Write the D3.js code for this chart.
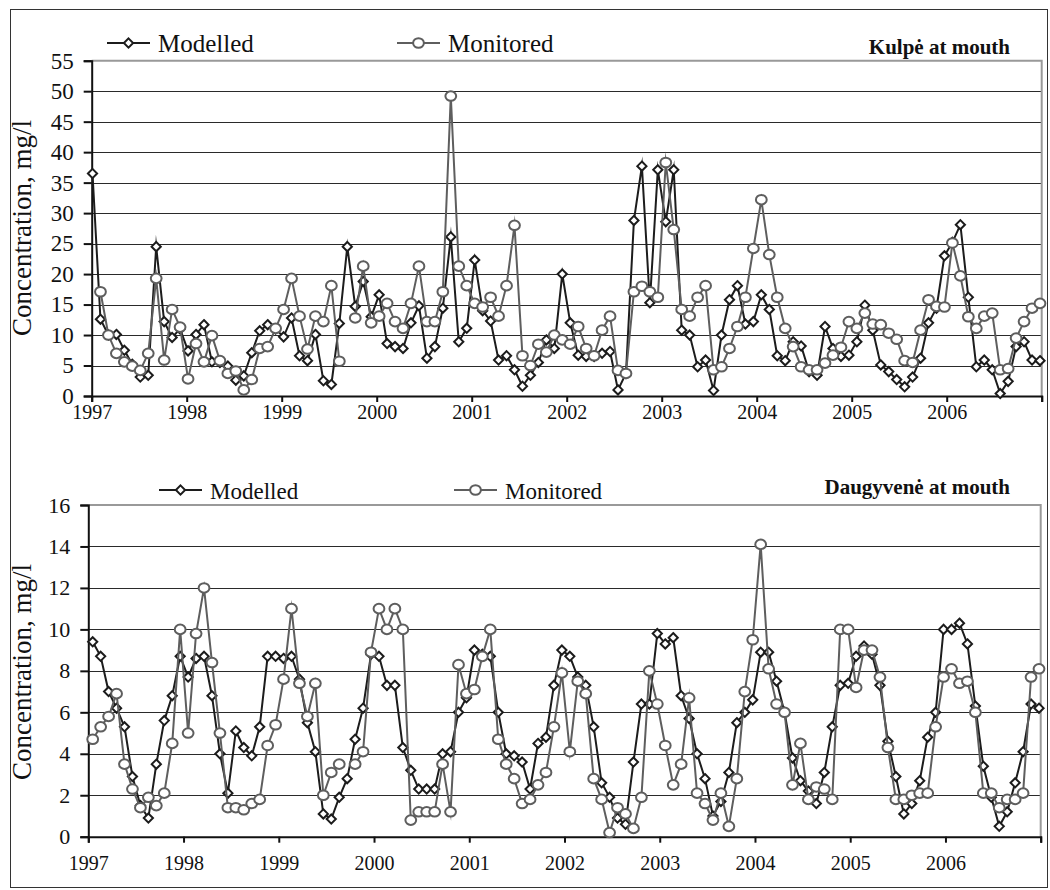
<!DOCTYPE html>
<html>
<head>
<meta charset="utf-8">
<script src="https://cdn.jsdelivr.net/npm/d3@7"></script>
<style>
  body { margin: 0; background: #fff; }
  svg { display: block; }
  text { font-family: "Liberation Serif", "Times New Roman", serif; fill: #111; }
</style>
</head>
<body>
<script>
// monthly values, Jan 1997 .. Dec 2006
const years = [1997, 1998, 1999, 2000, 2001, 2002, 2003, 2004, 2005, 2006];

const kulpeModelled = [
  36.5, 12.6, 10, 10.1, 7.5, 5.2, 3.1, 3.4, 24.5, 12.2, 9.6, 11, 7.4, 10.1, 11.7, 5.6, 5.5, 4.9, 2.6, 3.3,
  7.1, 10.7, 11.7, 11, 9.7, 12.8, 6.6, 5.8, 10.1, 2.5, 1.9, 11.9, 24.5, 14.7, 18.8, 13, 16.6, 8.6, 8.1, 7.8,
  12.0, 14.8, 6.2, 8.1, 14.4, 26.1, 8.9, 11.1, 22.3, 14, 12.3, 5.9, 6.6, 4.3, 1.6, 3.4, 5.5, 9.2, 7.8, 20.0,
  12.0, 6.7, 6.5, 6.5, 7.0, 7.3, 1.0, 3.7, 28.8, 37.7, 15.3, 37.1, 28.6, 37.1, 10.8, 10.0, 4.8, 5.9, 0.9, 10.0,
  15.8, 18.1, 11.8, 12.2, 16.6, 14.2, 6.6, 5.8, 8.9, 8.2, 4.0, 3.4, 11.4, 7.8, 6.5, 6.7, 8.9, 14.9, 10.8, 5.1,
  4.0, 2.7, 1.5, 3.1, 6.2, 12.0, 14.4, 23.0, 25.2, 28.1, 16.2, 4.8, 5.9, 4.3, 0.4, 2.4, 8.1, 8.9, 5.9, 5.8
];
const kulpeMonitored = [
  null, 17.1, 10.0, 7.0, 5.6, 4.9, 4.2, 7.0, 19.3, 5.9, 14.2, 11.3, 2.8, 8.6, 5.6, 9.9, 5.8, 3.7, 4.1, 1.0,
  2.7, 7.8, 8.1, 11.1, 14.2, 19.3, 13.1, 7.7, 13.1, 12.2, 18.1, 5.7, null, 12.8, 21.3, 12.0, 13.1, 15.2, 12.2, 11.1,
  15.2, 21.3, 12.2, 12.2, 17.1, 49.2, 21.3, 18.1, 15.2, 14.6, 16.2, 13.1, 18.1, 28.0, 6.6, 5.0, 8.5, 7.2, 10.0, 9.2,
  8.5, 11.4, 7.8, 6.6, 10.8, 13.1, 4.2, 3.7, 17.1, 18.0, 17.1, 16.2, 38.3, 27.3, 14.2, 13.1, 16.2, 18.1, 4.3, 4.8,
  7.8, 11.4, 16.2, 24.2, 32.2, 23.2, 16.2, 11.1, 8.1, 4.8, 4.3, 4.3, 5.4, 6.7, 8.0, 12.2, 11.1, 13.6, 11.8, 11.7,
  10.3, 9.3, 5.8, 5.5, 10.8, 15.8, 14.7, 14.6, 25.1, 19.7, 13.0, 11.1, 13.1, 13.6, 4.3, 4.5, 9.5, 12.2, 14.4, 15.2
];
const kulpeTicks = [0, 5, 10, 15, 20, 25, 30, 35, 40, 45, 50, 55];

const daugModelled = [
  9.4, 8.7, 7.0, 6.2, 5.3, 2.9, 1.5, 0.9, 3.5, 5.6, 6.8, 8.7, 7.7, 8.6, 8.7, 6.8, 4.0, 2.1, 5.1, 4.3,
  3.9, 5.3, 8.7, 8.7, 8.6, 8.7, 7.6, 5.5, 4.1, 1.1, 0.85, 1.9, 2.8, 4.7, 6.2, 8.8, 8.7, 7.3, 7.3, 4.3,
  3.2, 2.3, 2.3, 2.3, 4.0, 4.1, 6.0, 6.7, 9.0, 8.8, 8.7, 6.0, 4.0, 3.9, 3.6, 2.3, 4.5, 4.8, 7.3, 9.0,
  8.7, 7.7, 7.3, 5.3, 2.6, 1.9, 0.9, 0.6, 3.6, 6.4, 6.4, 9.8, 9.3, 9.6, 6.8, 5.7, 4.0, 2.8, 1.0, 1.7,
  3.1, 5.5, 6.0, 6.6, 8.9, 8.9, 7.5, 6.0, 3.8, 2.7, 2.2, 1.6, 3.1, 5.3, 7.3, 7.4, 8.7, 9.2, 8.8, 7.3,
  4.6, 2.9, 1.1, 1.6, 2.7, 4.8, 6.0, 10.0, 10.0, 10.3, 9.3, 6.3, 3.4, 1.9, 0.5, 1.2, 2.6, 4.1, 6.4, 6.2
];
const daugMonitored = [
  4.7, 5.3, 5.8, 6.9, 3.5, 2.3, 1.4, 1.9, 1.5, 2.1, 4.5, 10.0, 5.0, 9.8, 12.0, 8.4, 5.0, 1.4, 1.4, 1.3,
  1.6, 1.8, 4.4, 5.4, 7.6, 11.0, 7.4, 5.8, 7.4, 2.0, 3.1, 3.5, null, 3.5, 4.1, 8.9, 11.0, 10.0, 11.0, 10.0,
  0.8, 1.2, 1.2, 1.2, 3.5, 1.2, 8.3, 6.9, 7.1, 8.7, 10.0, 4.7, 3.5, 2.8, 1.6, 1.8, 2.5, 3.1, 5.3, 7.9,
  4.1, 7.5, 6.9, 2.8, 1.8, 0.2, 1.4, 1.1, 0.4, 1.9, 8.0, 6.4, 4.4, 2.5, 3.5, 6.7, 2.1, 1.6, 0.8, 2.1,
  0.5, 2.8, 7.0, 9.5, 14.1, 8.1, 6.4, 6.0, 2.5, 4.5, 1.8, 2.4, 2.3, 1.8, 10.0, 10.0, 7.2, 9.0, 9.0, 7.7,
  4.3, 1.8, 1.8, 2.0, 2.1, 2.1, 5.3, 7.7, 8.1, 7.4, 7.5, 6.0, 2.1, 2.1, 1.4, 1.8, 1.8, 2.1, 7.7, 8.1
];
const daugTicks = [0, 2, 4, 6, 8, 10, 12, 14, 16];

const W = 1050, H = 890;
const modColor = "#1c1c1c", monColor = "#5e5e5e";

const svg = d3.select("body").append("svg")
  .attr("width", W)
  .attr("height", H);

svg.append("rect")
  .attr("x", 10.5).attr("y", 9.5)
  .attr("width", 1037).attr("height", 878)
  .attr("fill", "#fff")
  .attr("stroke", "#333");

function diamond(r) {
  return `M0,${-r}L${r},0L0,${r}L${-r},0Z`;
}

function panel(o) {
  const g = svg.append("g");
  const yMax = d3.max(o.ticks);

  const x = d3.scaleLinear().domain([0, o.modelled.length - 1]).range(o.pts);
  const xYear = d3.scaleLinear()
    .domain([years[0], years[years.length - 1] + 1])
    .range([o.left, o.right]);
  const y = d3.scaleLinear().domain([0, yMax]).range([o.bottom, o.top]);

  // horizontal gridlines
  g.selectAll(".grid")
    .data(o.ticks.filter(v => v > 0 && v < yMax))
    .join("line")
      .attr("x1", o.left).attr("x2", o.right)
      .attr("y1", d => Math.round(y(d)) + 0.5)
      .attr("y2", d => Math.round(y(d)) + 0.5)
      .attr("stroke", "#2a2a2a")
      .attr("stroke-width", 1.2);

  // plot area border (top and right)
  g.append("path")
    .attr("d", `M${o.left},${y(yMax)}H${o.right}V${o.bottom}`)
    .attr("fill", "none")
    .attr("stroke", "#999")
    .attr("stroke-width", 2);

  // y axis
  const ya = g.append("g")
    .attr("transform", `translate(${o.left},0)`)
    .call(d3.axisLeft(y).tickValues(o.ticks).tickSize(8).tickPadding(10));
  ya.select(".domain").attr("stroke", "#111").attr("stroke-width", 2);
  ya.selectAll(".tick line").attr("stroke", "#111").attr("stroke-width", 2);
  ya.selectAll("text")
    .style("font-family", '"Liberation Serif", serif')
    .style("font-size", o.yFont + "px")
    .attr("fill", "#111");

  // x axis (years)
  const xa = g.append("g")
    .attr("transform", `translate(0,${o.bottom})`)
    .call(d3.axisBottom(xYear)
      .tickValues(d3.range(years[0], years[years.length - 1] + 2))
      .tickFormat(d => years.includes(d) ? String(d) : "")
      .tickSize(6)
      .tickPadding(o.xPad));
  xa.select(".domain").attr("stroke", "#111").attr("stroke-width", 2);
  xa.selectAll(".tick line").attr("stroke", "#111").attr("stroke-width", 2);
  xa.selectAll("text")
    .style("font-family", '"Liberation Serif", serif')
    .style("font-size", o.xFont + "px")
    .attr("fill", "#111");

  // axis title
  g.append("text")
    .attr("transform", `translate(${o.titleX},${o.titleY}) rotate(-90)`)
    .attr("text-anchor", "middle")
    .style("font-size", o.titleFont + "px")
    .text("Concentration, mg/l");

  const line = d3.line()
    .defined(d => d != null)
    .x((d, i) => x(i))
    .y(d => y(d));

  // modelled series
  g.append("path")
    .datum(o.modelled)
    .attr("d", line)
    .attr("fill", "none")
    .attr("stroke", modColor)
    .attr("stroke-width", 2)
    .attr("stroke-miterlimit", 12);
  g.selectAll(".mod")
    .data(o.modelled.map((v, i) => [i, v]).filter(d => d[1] != null))
    .join("path")
      .attr("d", diamond(4.6))
      .attr("transform", d => `translate(${x(d[0])},${y(d[1])})`)
      .attr("fill", "#fff")
      .attr("stroke", modColor)
      .attr("stroke-width", 2);

  // monitored series
  g.append("path")
    .datum(o.monitored)
    .attr("d", line)
    .attr("fill", "none")
    .attr("stroke", monColor)
    .attr("stroke-width", 2)
    .attr("stroke-miterlimit", 12);
  g.selectAll(".mon")
    .data(o.monitored.map((v, i) => [i, v]).filter(d => d[1] != null))
    .join("ellipse")
      .attr("cx", d => x(d[0]))
      .attr("cy", d => y(d[1]))
      .attr("rx", 5.4).attr("ry", 4.8)
      .attr("fill", "#fff")
      .attr("stroke", monColor)
      .attr("stroke-width", 2);

  // legend
  const lg = g.append("g");
  const L = o.legend;
  lg.append("line")
    .attr("x1", L.modX).attr("x2", L.modX + 43)
    .attr("y1", L.y).attr("y2", L.y)
    .attr("stroke", modColor).attr("stroke-width", 2);
  lg.append("path")
    .attr("d", diamond(4.6))
    .attr("transform", `translate(${L.modX + 21.5},${L.y})`)
    .attr("fill", "#fff").attr("stroke", modColor).attr("stroke-width", 2);
  lg.append("text")
    .attr("x", L.modX + 51).attr("y", L.y + 9)
    .style("font-size", L.font + "px")
    .text("Modelled");
  lg.append("line")
    .attr("x1", L.monX).attr("x2", L.monX + 43)
    .attr("y1", L.y).attr("y2", L.y)
    .attr("stroke", monColor).attr("stroke-width", 2);
  lg.append("ellipse")
    .attr("cx", L.monX + 21.5).attr("cy", L.y)
    .attr("rx", 5.4).attr("ry", 4.8)
    .attr("fill", "#fff").attr("stroke", monColor).attr("stroke-width", 2);
  lg.append("text")
    .attr("x", L.monX + 51).attr("y", L.y + 9)
    .style("font-size", L.font + "px")
    .text("Monitored");

  // station name
  g.append("text")
    .attr("x", 1010).attr("y", o.nameY)
    .attr("text-anchor", "end")
    .style("font-size", "21px")
    .style("font-weight", "bold")
    .text(o.name);
}

panel({
  name: "Kulpė at mouth", nameY: 54,
  modelled: kulpeModelled, monitored: kulpeMonitored, ticks: kulpeTicks,
  left: 91.7, right: 1041.7, top: 60.7, bottom: 396, pts: [92.5, 1040],
  yFont: 23, xFont: 20, xPad: 3,
  titleX: 31, titleY: 228, titleFont: 27,
  legend: { modX: 107, monX: 397, y: 43, font: 25 }
});

panel({
  name: "Daugyvenė at mouth", nameY: 494,
  modelled: daugModelled, monitored: daugMonitored, ticks: daugTicks,
  left: 88.3, right: 1040.7, top: 505, bottom: 836.7, pts: [92.7, 1039],
  yFont: 22, xFont: 20, xPad: 13,
  titleX: 31, titleY: 672, titleFont: 27,
  legend: { modX: 159, monX: 454, y: 490, font: 23 }
});
</script>
</body>
</html>
